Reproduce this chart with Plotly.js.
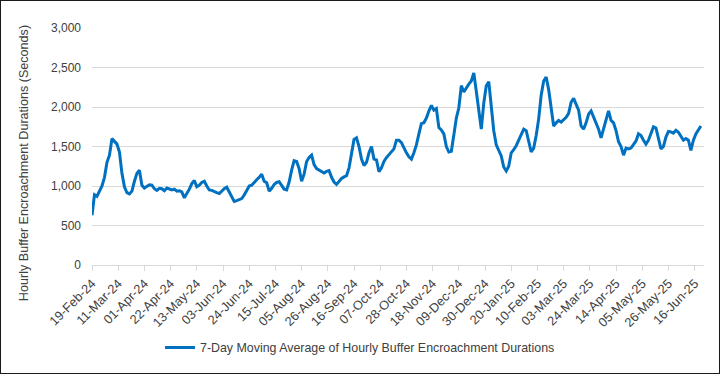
<!DOCTYPE html>
<html>
<head>
<meta charset="utf-8">
<script src="https://cdn.plot.ly/plotly-3.0.1.min.js"></script>
<style>
  html, body { margin: 0; padding: 0; background: #ffffff; }
  #chart { width: 720px; height: 374px; }
  #frame { position: absolute; left: 0; top: 0; width: 720px; height: 374px; box-sizing: border-box; border: 1px solid #1a1a1a; pointer-events: none; }
</style>
</head>
<body>
<div id="chart"></div>
<div id="frame"></div>
<script>
// Series: 7-day moving average, sampled every 2 days from the start date
const startDate = '2024-02-19';
const stepDays = 2;
const seriesName = '7-Day Moving Average of Hourly Buffer Encroachment Durations';
const movingAvgSeconds = [
  630,890,870,945,1000,1110,1300,1390,1600,1565,
  1530,1430,1160,990,915,900,935,1060,1160,1200,
  1010,975,995,1015,1010,965,945,970,965,940,
  975,960,950,960,935,940,925,850,900,960,
  1030,1070,990,1010,1045,1060,1000,950,945,925,
  915,905,940,965,985,930,860,805,815,830,
  840,885,945,1000,1010,1050,1080,1110,1150,1060,
  1040,935,970,1020,1045,1055,1010,960,950,1050,
  1200,1320,1310,1220,1060,1150,1310,1360,1390,1270,
  1220,1205,1180,1165,1185,1195,1110,1050,1020,1060,
  1095,1115,1130,1230,1420,1590,1610,1500,1340,1260,
  1300,1420,1500,1340,1330,1180,1230,1310,1360,1400,
  1430,1470,1580,1580,1550,1480,1420,1370,1340,1420,
  1520,1660,1790,1800,1860,1950,2020,1960,1980,1740,
  1710,1660,1500,1430,1440,1645,1860,1990,2270,2190,
  2250,2290,2330,2430,2200,1930,1720,2050,2270,2320,
  2020,1700,1520,1450,1380,1240,1190,1250,1420,1460,
  1510,1580,1650,1720,1700,1560,1430,1480,1640,1850,
  2150,2330,2380,2220,2000,1760,1800,1830,1810,1840,
  1870,1920,2060,2110,2030,1960,1760,1720,1800,1910,
  1950,1880,1800,1720,1610,1720,1850,1950,1830,1800,
  1700,1560,1500,1390,1480,1470,1480,1530,1570,1660,
  1640,1580,1530,1580,1680,1750,1735,1620,1470,1500,
  1620,1690,1685,1670,1705,1680,1630,1580,1600,1580,
  1450,1580,1660,1710,1760
];
const yTickValues = [0, 500, 1000, 1500, 2000, 2500, 3000];
const xRange = ['2024-02-19', '2025-06-23 12:00'];
const yTitle = 'Hourly Buffer Encroachment Durations (Seconds)';

const DAY = 86400000;
const t0 = Date.parse(startDate + 'T00:00:00Z');
const dates = movingAvgSeconds.map((_, i) => new Date(t0 + i * stepDays * DAY).toISOString().slice(0, 10));

const txt = '#404040';
const font = "'Liberation Sans', Arial, sans-serif";

Plotly.newPlot('chart', [{
  type: 'scatter',
  mode: 'lines',
  x: dates,
  y: movingAvgSeconds,
  name: seriesName,
  line: { color: '#0070C0', width: 3 },
  showlegend: true
}], {
  width: 720,
  height: 374,
  margin: { l: 92, r: 16, t: 28, b: 109 },
  paper_bgcolor: '#ffffff',
  plot_bgcolor: '#ffffff',
  font: { family: font, size: 12, color: txt },
  showlegend: true,
  legend: {
    orientation: 'h',
    xref: 'container', yref: 'container',
    x: 0.5, xanchor: 'center',
    y: 0.07, yanchor: 'middle',
    font: { family: font, size: 12.4, color: txt },
    itemwidth: 30
  },
  annotations: [{
    text: yTitle,
    xref: 'paper', yref: 'paper',
    x: -0.111, y: 0.43,
    xanchor: 'center', yanchor: 'middle',
    textangle: -90,
    showarrow: false,
    font: { family: font, size: 12.6, color: txt }
  }],
  xaxis: {
    type: 'date',
    range: xRange,
    tick0: startDate,
    dtick: 21 * DAY,
    tickformat: '%d-%b-%y',
    tickangle: -45,
    ticks: 'outside',
    ticklen: 5,
    tickcolor: '#d9d9d9',
    showline: true,
    linecolor: '#d9d9d9',
    linewidth: 1,
    showgrid: false,
    zeroline: false,
    tickfont: { family: font, size: 12.8, color: txt }
  },
  yaxis: {
    range: [0, 3000],
    tickvals: yTickValues,
    tickformat: ',d',
    showgrid: true,
    gridcolor: '#d9d9d9',
    gridwidth: 1,
    showline: false,
    zeroline: false,
    ticks: '',
    ticklabelstandoff: 10,
    tickfont: { family: font, size: 12, color: txt }
  }
}, { displayModeBar: false, staticPlot: true });
</script>
</body>
</html>
